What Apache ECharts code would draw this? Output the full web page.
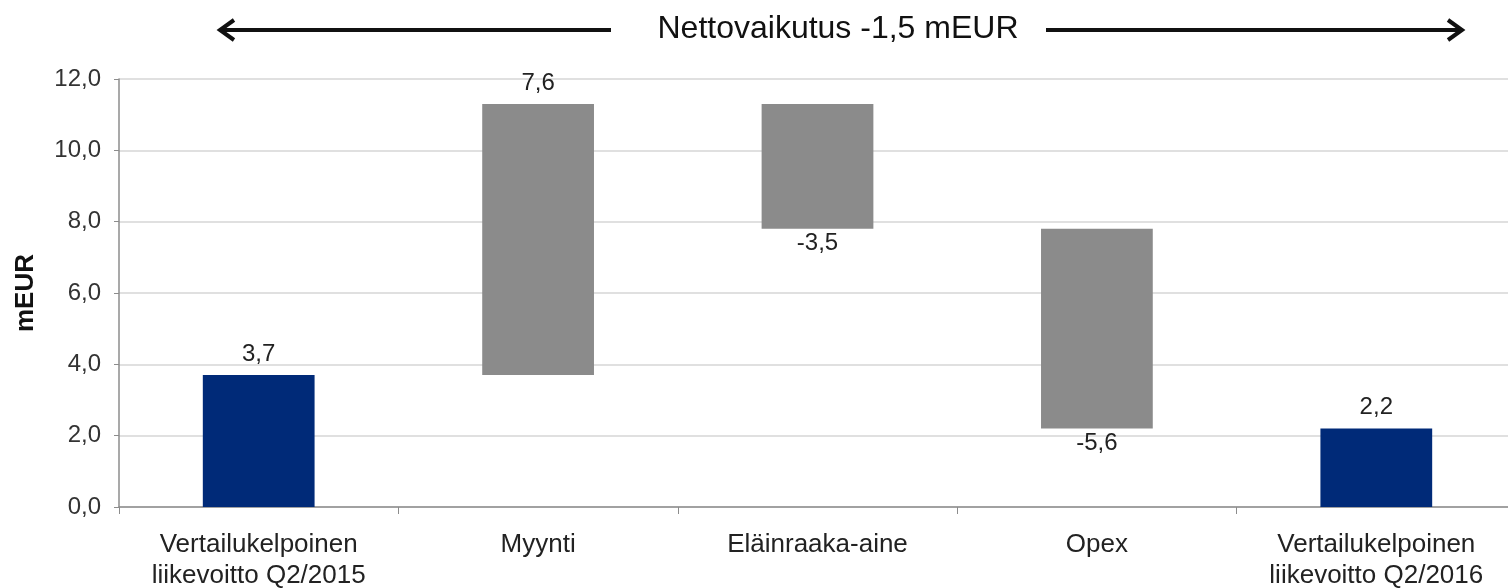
<!DOCTYPE html>
<html>
<head>
<meta charset="utf-8">
<script src="https://cdn.jsdelivr.net/npm/echarts@6/dist/echarts.min.js"></script>
<style>
  html, body { margin: 0; padding: 0; background: #fff; }
  #chart { width: 1508px; height: 588px; }
</style>
</head>
<body>
<div id="chart"></div>
<script>
// data
const categories = ['Vertailukelpoinen\nliikevoitto Q2/2015', 'Myynti', 'Eläinraaka-aine', 'Opex', 'Vertailukelpoinen\nliikevoitto Q2/2016'];
const changes = [3.7, 7.6, -3.5, -5.6, 2.2];
const isTotal = [true, false, false, false, true];
const yTicks = [0, 2, 4, 6, 8, 10, 12];
const titleText = 'Nettovaikutus -1,5 mEUR';

const navy = '#002a78';
const grey = '#8b8b8b';
const font = 'Liberation Sans, Arial, sans-serif';

// waterfall: invisible base + visible step
const base = [];
const height = [];
let run = 0;
changes.forEach((v, i) => {
    if (isTotal[i]) {
        base.push(0);
        height.push(Math.abs(v));
        run = v;
    } else {
        const next = run + v;
        base.push(Math.min(run, next));
        height.push(Math.abs(v));
        run = next;
    }
});

const fmt = v => v.toFixed(1).replace('.', ',');

const chart = echarts.init(document.getElementById('chart'));

const arrowY = 30;
const arrowStyle = { stroke: '#111', lineWidth: 4, fill: null };

chart.setOption({
    animation: false,
    textStyle: { fontFamily: font },
    grid: { left: 119, right: -8, top: 79, bottom: 81, containLabel: false, outerBoundsMode: 'none' },
    title: {
        text: titleText,
        left: 833,
        textAlign: 'center',
        top: 8,
        textStyle: { fontSize: 32, fontWeight: 'normal', color: '#111', fontFamily: font }
    },
    graphic: [
        { type: 'line', shape: { x1: 220, y1: arrowY, x2: 611, y2: arrowY }, style: arrowStyle },
        { type: 'polyline', shape: { points: [[234, arrowY - 10], [220, arrowY], [234, arrowY + 10]] }, style: arrowStyle },
        { type: 'line', shape: { x1: 1046, y1: arrowY, x2: 1462, y2: arrowY }, style: arrowStyle },
        { type: 'polyline', shape: { points: [[1448, arrowY - 10], [1462, arrowY], [1448, arrowY + 10]] }, style: arrowStyle }
    ],
    xAxis: {
        type: 'category',
        data: categories,
        axisLine: { lineStyle: { color: '#8c8c8c', width: 1.5 } },
        axisTick: { show: true, length: 7, lineStyle: { color: '#8c8c8c' } },
        axisLabel: { fontSize: 26, color: '#222', margin: 22, lineHeight: 31, interval: 0 }
    },
    yAxis: {
        type: 'value',
        min: yTicks[0],
        max: yTicks[yTicks.length - 1],
        interval: 2,
        name: 'mEUR',
        nameLocation: 'middle',
        nameGap: 80,
        nameTextStyle: { fontSize: 26, fontWeight: 'bold', color: '#111' },
        axisLine: { show: true, lineStyle: { color: '#8c8c8c', width: 1.5 } },
        axisTick: { show: true, length: 5, lineStyle: { color: '#8c8c8c' } },
        axisLabel: { fontSize: 24, color: '#333', margin: 18, formatter: v => fmt(v) },
        splitLine: { lineStyle: { color: '#d6d6d6', width: 1.5 } }
    },
    series: [
        {
            type: 'bar',
            stack: 'w',
            data: base,
            itemStyle: { color: 'transparent' },
            silent: true,
            barWidth: '40%'
        },
        {
            type: 'bar',
            stack: 'w',
            barWidth: '40%',
            data: height.map((h, i) => ({
                value: h,
                itemStyle: { color: isTotal[i] ? navy : grey },
                label: {
                    show: true,
                    position: changes[i] < 0 ? 'bottom' : 'top',
                    distance: changes[i] < 0 ? 3 : 9,
                    formatter: () => fmt(changes[i]),
                    fontSize: 24,
                    color: '#222'
                }
            }))
        }
    ]
});
</script>
</body>
</html>
